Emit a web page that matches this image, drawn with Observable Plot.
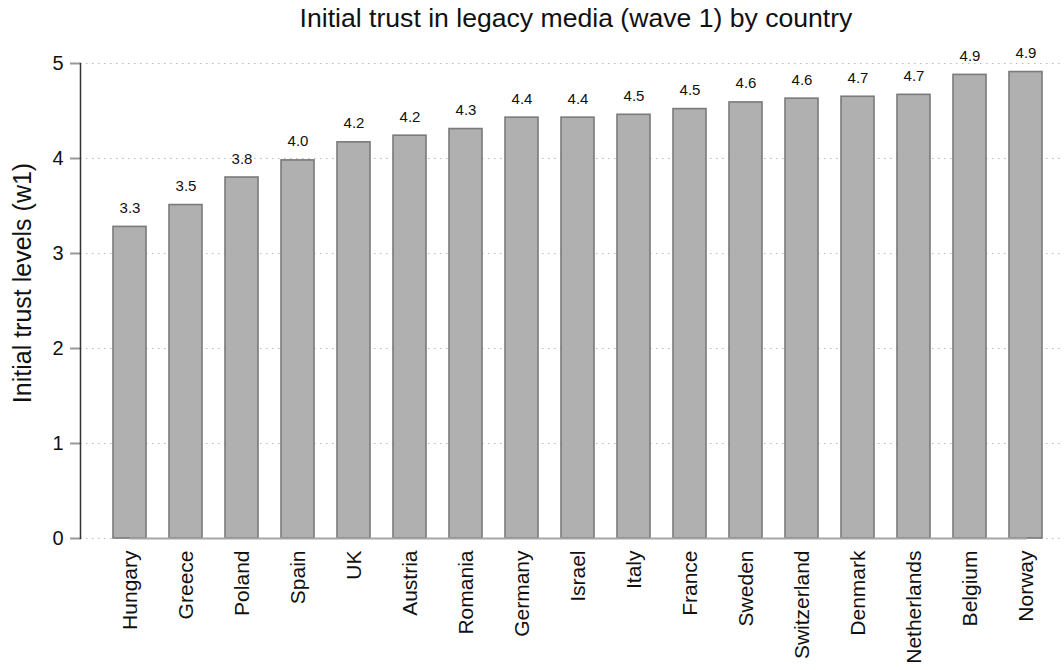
<!DOCTYPE html>
<html>
<head>
<meta charset="utf-8">
<script src="https://cdn.jsdelivr.net/npm/d3@7"></script>
<script src="https://cdn.jsdelivr.net/npm/@observablehq/plot@0.6"></script>
<style>
  body { margin: 0; background: #fff; font-family: "Liberation Sans", Arial, sans-serif; }
  #title { width: 1064px; box-sizing: border-box; padding-left: 88px; height: 36px; line-height: 36px;
           font-size: 26.6px; text-align: center; color: #111; white-space: nowrap; }
</style>
</head>
<body>
<div id="title">Initial trust in legacy media (wave 1) by country</div>
<div id="chart"></div>
<script>
const countries = ["Hungary","Greece","Poland","Spain","UK","Austria","Romania","Germany","Israel","Italy","France","Sweden","Switzerland","Denmark","Netherlands","Belgium","Norway"];
const trust = [3.28, 3.51, 3.80, 3.98, 4.17, 4.24, 4.31, 4.43, 4.43, 4.46, 4.52, 4.59, 4.63, 4.65, 4.67, 4.88, 4.91];
const yTicks = [0, 1, 2, 3, 4, 5];
const yLabel = "Initial trust levels (w1)";

const data = countries.map((c, i) => ({country: c, value: trust[i]}));
const fmt = d3.format(".1f");

const chart = Plot.plot({
  width: 1064,
  height: 634,
  marginTop: 27,
  marginBottom: 132,
  marginLeft: 80,
  marginRight: 4,
  style: {fontFamily: "'Liberation Sans', Arial, sans-serif", color: "#111", background: "#fff"},
  x: {domain: countries, range: [102, 1054], paddingInner: 0.41, paddingOuter: 0.2, label: null},
  y: {domain: [0, 5], label: null},
  marks: [
    Plot.gridY(yTicks, {stroke: "#bbb", strokeOpacity: 1, strokeWidth: 1.2, strokeDasharray: "1.5,4.5"}),
    Plot.barY(data, {x: "country", y: "value", fill: "#b0b0b0", stroke: "#7a7a7a", strokeWidth: 1.6}),
    Plot.lineY([{country: countries[0], value: 0}, {country: countries[countries.length - 1], value: 0}],
      {x: "country", y: "value", stroke: "#a6a6a6", strokeWidth: 2}),
    Plot.text(data, {x: "country", y: "value", text: d => fmt(d.value), lineAnchor: "bottom", dy: -14, fontSize: 15, fill: "#111"}),
    Plot.axisY(yTicks, {tickSize: 10, tickPadding: 7, fontSize: 20, stroke: "#999", strokeWidth: 2, label: null, tickFormat: d => d}),
    Plot.frame({anchor: "left", stroke: "#333", strokeWidth: 1.5}),
    Plot.axisX({tickSize: 0, tickPadding: 12, tickRotate: -90, fontSize: 21, label: null}),
    Plot.text([yLabel], {frameAnchor: "left", textAnchor: "middle", rotate: -90, dx: -58, dy: -18, fontSize: 25, fill: "#111"})
  ]
});
document.getElementById("chart").appendChild(chart);
</script>
</body>
</html>
